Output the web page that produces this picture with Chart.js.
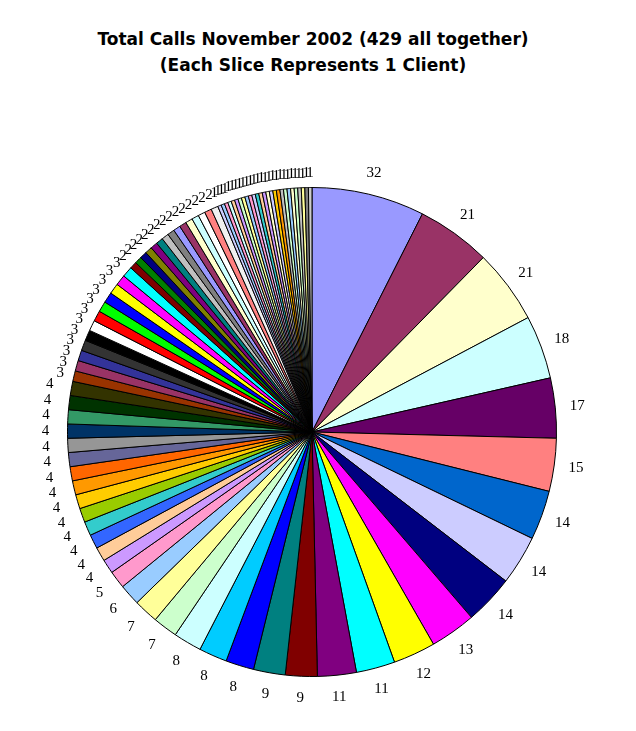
<!DOCTYPE html>
<html><head><meta charset="utf-8">
<script src="https://cdn.jsdelivr.net/npm/chart.js@4"></script>
<style>
body{margin:0;background:#fff;width:636px;height:731px;overflow:hidden;position:relative}
#t{position:absolute;top:26px;left:0;width:626px;text-align:center;font:bold 17px "DejaVu Sans",Verdana,sans-serif;line-height:26px}
canvas{position:absolute;left:0;top:0}
</style></head><body>
<div id="t">Total Calls November 2002 (429 all together)<br>(Each Slice Represents 1 Client)</div>
<canvas id="c" width="636" height="731"></canvas>
<script>
const bigValues=[32,21,21,18,17,15,14,14,14,13,12,11,11,9,9,8,8,8,7,7,6,5];
const fours=[4,4,4,4,4,4,4,4,4,4,4,4,4,4];
const threes=[3,3,3,3,3,3,3,3,3,3,3,3];
const twos=[2,2,2,2,2,2,2,2,2,2,2,2,2,2,2];
const ones=[1,1,1,1,1,1,1,1,1,1,1,1,1,1,1,1,1,1,1,1,1,1,1,1,1,1,1];
const values=[...bigValues,...fours,...threes,...twos,...ones];
const labels=values.map((v,i)=>'Client '+(i+1));
const palette=['#9999FF','#993366','#FFFFCC','#CCFFFF','#660066','#FF8080','#0066CC','#CCCCFF','#000080','#FF00FF','#FFFF00','#00FFFF','#800080','#800000','#008080','#0000FF','#00CCFF','#CCFFFF','#CCFFCC','#FFFF99','#99CCFF','#FF99CC','#CC99FF','#FFCC99','#3366FF','#33CCCC','#99CC00','#FFCC00','#FF9900','#FF6600','#666699','#969696','#003366','#339966','#003300','#333300','#993300','#993366','#333399','#333333','#000000','#FFFFFF','#FF0000','#00FF00','#0000FF','#FFFF00','#FF00FF','#00FFFF','#800000','#008000','#000080','#808000','#800080','#008080','#C0C0C0','#808080','#9999FF','#993366','#FFFFCC','#CCFFFF','#FFFFFF','#FF8080','#F0F0F0','#CCCCFF','#99CCFF','#FF99CC','#CCFFFF','#FFCC99','#CC99FF','#CCFFCC','#FFFF99','#99CCFF','#FF99CC','#CCCCFF','#33CCCC','#FFCC99','#CC99FF','#FFFFCC','#CCCCFF','#FFCC00','#FF9900','#C0C0C0','#CCFFCC','#99CCFF','#FFFFCC','#CCFFCC','#C0C0C0','#FFFF99','#808080','#CCCCCC'];
const labelPlugin={id:'lbl',afterDatasetsDraw(chart){
 const ctx=chart.ctx;const meta=chart.getDatasetMeta(0);
 ctx.save();ctx.fillStyle='#000';ctx.font='15px "Liberation Serif","Times New Roman",serif';
 ctx.textAlign='center';ctx.textBaseline='middle';
 meta.data.forEach((a,i)=>{const m=(a.startAngle+a.endAngle)/2;const r=a.outerRadius+(values[i]>=4?22:14);
  ctx.fillText(String(values[i]),a.x+Math.cos(m)*r,a.y+Math.sin(m)*r);});
 ctx.restore();}};
new Chart(document.getElementById('c'),{type:'pie',
 data:{labels,datasets:[{data:values,backgroundColor:values.map((v,i)=>palette[i%palette.length]),borderColor:'#000',borderWidth:1}]},
 options:{responsive:false,animation:false,layout:{padding:{left:67,right:79,top:187,bottom:54}},
  plugins:{legend:{display:false},tooltip:{enabled:false}}},
 plugins:[labelPlugin]});
</script></body></html>
